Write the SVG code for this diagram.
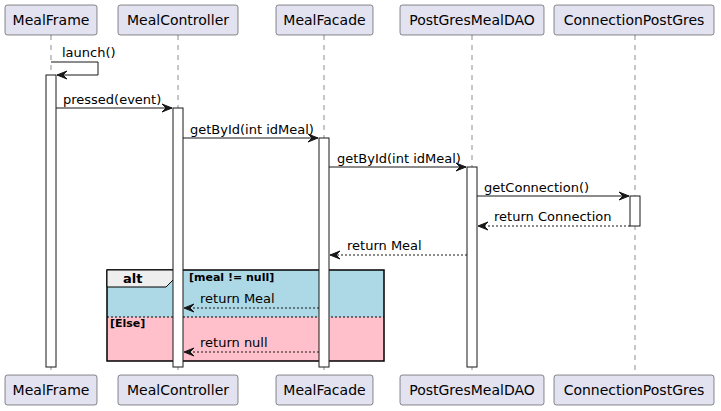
<svg xmlns="http://www.w3.org/2000/svg" width="721" height="411" viewBox="0 0 721 411">
  <style>
    .part rect { fill: #E2E2F0; stroke: #181818; stroke-width: 0.5; }
    .part text { font-family: "DejaVu Sans", sans-serif; font-size: 14px; fill: #000; text-anchor: middle; }
    .life { stroke: #181818; stroke-width: 0.5; stroke-dasharray: 5,5; fill: none; }
    .act { fill: #FFFFFF; stroke: #181818; stroke-width: 1; }
    .msg { stroke: #181818; stroke-width: 1; fill: none; }
    .ret { stroke: #181818; stroke-width: 1; fill: none; stroke-dasharray: 2,2; }
    .head { fill: #181818; stroke: #181818; stroke-width: 1; }
    .lbl { font-family: "DejaVu Sans", sans-serif; font-size: 13px; fill: #000; }
    .guard { font-family: "DejaVu Sans", sans-serif; font-size: 11px; font-weight: bold; fill: #000; }
  </style>

  <!-- lifelines -->
  <g id="lifelines">
    <line class="life" x1="51" y1="35" x2="51" y2="375"/>
    <line class="life" x1="178" y1="35" x2="178" y2="375"/>
    <line class="life" x1="324" y1="35" x2="324" y2="375"/>
    <line class="life" x1="472" y1="35" x2="472" y2="375"/>
    <line class="life" x1="635" y1="35" x2="635" y2="375"/>
  </g>

  <!-- alt fragment -->
  <g id="alt">
    <rect x="107" y="270" width="277" height="47" fill="#ADD8E6"/>
    <rect x="107" y="317" width="277" height="44" fill="#FFC0CB"/>
    <line x1="107" y1="317" x2="384" y2="317" stroke="#000" stroke-width="1" stroke-dasharray="2,2"/>
    <rect x="107" y="270" width="277" height="91" fill="none" stroke="#000" stroke-width="1.5"/>
    <polygon points="107,270 175,270 175,278 166,287 107,287" fill="#EEEEEE" stroke="#000" stroke-width="1"/>
    <text x="123" y="283" style="font-family:'DejaVu Sans',sans-serif;font-size:13px;font-weight:bold">alt</text>
    <text class="guard" x="189" y="281">[meal != null]</text>
    <text class="guard" x="110" y="327">[Else]</text>
  </g>

  <!-- activations -->
  <g id="activations">
    <rect class="act" x="46" y="75" width="10" height="292"/>
    <rect class="act" x="173" y="108" width="10" height="259"/>
    <rect class="act" x="319" y="138" width="10" height="229"/>
    <rect class="act" x="467" y="167" width="10" height="200"/>
    <rect class="act" x="630" y="196" width="10" height="30"/>
  </g>

  <!-- participants -->
  <g id="MealFrame" class="part">
    <rect x="5" y="5" width="92" height="30" rx="2.5"/>
    <text x="51" y="25">MealFrame</text>
    <rect x="5" y="375" width="92" height="30" rx="2.5"/>
    <text x="51" y="395">MealFrame</text>
  </g>
  <g id="MealController" class="part">
    <rect x="118" y="5" width="120" height="30" rx="2.5"/>
    <text x="178" y="25">MealController</text>
    <rect x="118" y="375" width="120" height="30" rx="2.5"/>
    <text x="178" y="395">MealController</text>
  </g>
  <g id="MealFacade" class="part">
    <rect x="276" y="5" width="97" height="30" rx="2.5"/>
    <text x="324.5" y="25">MealFacade</text>
    <rect x="276" y="375" width="97" height="30" rx="2.5"/>
    <text x="324.5" y="395">MealFacade</text>
  </g>
  <g id="PostGresMealDAO" class="part">
    <rect x="400" y="5" width="144" height="30" rx="2.5"/>
    <text x="472" y="25">PostGresMealDAO</text>
    <rect x="400" y="375" width="144" height="30" rx="2.5"/>
    <text x="472" y="395">PostGresMealDAO</text>
  </g>
  <g id="ConnectionPostGres" class="part">
    <rect x="554" y="5" width="160" height="30" rx="2.5"/>
    <text x="634" y="25">ConnectionPostGres</text>
    <rect x="554" y="375" width="160" height="30" rx="2.5"/>
    <text x="634" y="395">ConnectionPostGres</text>
  </g>

  <!-- messages -->
  <g id="messages">
    <!-- launch() self call -->
    <polyline class="msg" points="51,62 98,62 98,75 57,75"/>
    <polygon class="head" points="57,75 67,71 63,75 67,79"/>
    <text class="lbl" x="62" y="57">launch()</text>

    <!-- pressed(event) -->
    <line class="msg" x1="56" y1="108" x2="172" y2="108"/>
    <polygon class="head" points="172,108 162,104 166,108 162,112"/>
    <text class="lbl" x="63" y="104">pressed(event)</text>

    <!-- getById controller -> facade -->
    <line class="msg" x1="183" y1="138" x2="318" y2="138"/>
    <polygon class="head" points="318,138 308,134 312,138 308,142"/>
    <text class="lbl" x="190" y="134">getById(int idMeal)</text>

    <!-- getById facade -> dao -->
    <line class="msg" x1="329" y1="167" x2="466" y2="167"/>
    <polygon class="head" points="466,167 456,163 460,167 456,171"/>
    <text class="lbl" x="337" y="163">getById(int idMeal)</text>

    <!-- getConnection() -->
    <line class="msg" x1="477" y1="196" x2="629" y2="196"/>
    <polygon class="head" points="629,196 619,192 623,196 619,200"/>
    <text class="lbl" x="484" y="192">getConnection()</text>

    <!-- return Connection -->
    <line class="ret" x1="630" y1="226" x2="478" y2="226"/>
    <polygon class="head" points="478,226 488,222 484,226 488,230"/>
    <text class="lbl" x="494" y="221">return Connection</text>

    <!-- return Meal dao -> facade -->
    <line class="ret" x1="467" y1="255" x2="330" y2="255"/>
    <polygon class="head" points="330,255 340,251 336,255 340,259"/>
    <text class="lbl" x="347" y="250">return Meal</text>

    <!-- return Meal facade -> controller -->
    <line class="ret" x1="319" y1="308" x2="184" y2="308"/>
    <polygon class="head" points="184,308 194,304 190,308 194,312"/>
    <text class="lbl" x="200" y="303">return Meal</text>

    <!-- return null -->
    <line class="ret" x1="319" y1="352" x2="184" y2="352"/>
    <polygon class="head" points="184,352 194,348 190,352 194,356"/>
    <text class="lbl" x="200" y="347">return null</text>
  </g>
</svg>
